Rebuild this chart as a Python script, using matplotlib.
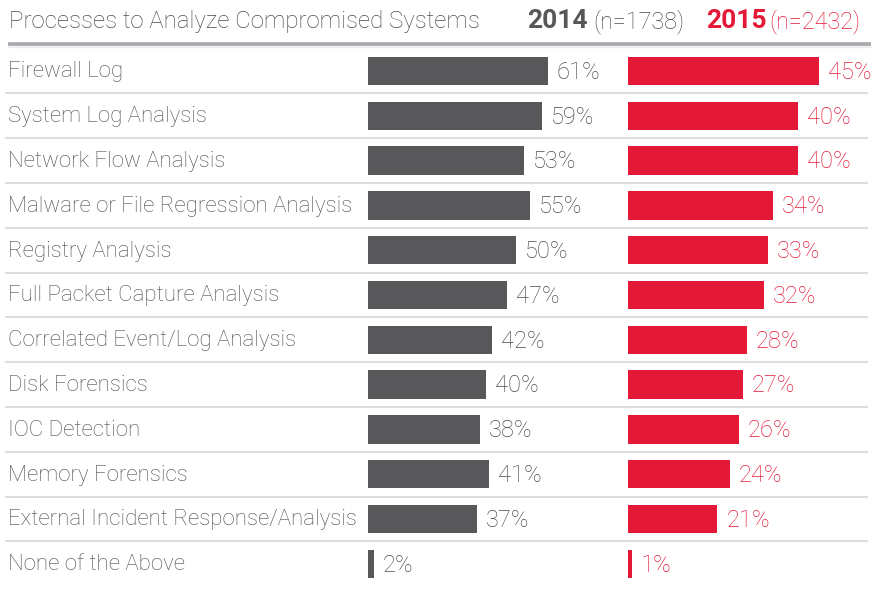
import matplotlib
matplotlib.use("Agg")
import matplotlib.pyplot as plt

categories = [
    "Firewall Log",
    "System Log Analysis",
    "Network Flow Analysis",
    "Malware or File Regression Analysis",
    "Registry Analysis",
    "Full Packet Capture Analysis",
    "Correlated Event/Log Analysis",
    "Disk Forensics",
    "IOC Detection",
    "Memory Forensics",
    "External Incident Response/Analysis",
    "None of the Above",
]
values_2014 = [61, 59, 53, 55, 50, 47, 42, 40, 38, 41, 37, 2]
values_2015 = [45, 40, 40, 34, 33, 32, 28, 27, 26, 24, 21, 1]

title = "Processes to Analyze Compromised Systems"
year_a, n_a = "2014", "(n=1738)"
year_b, n_b = "2015", "(n=2432)"

GRAY = "#58585a"
RED = "#e31937"
TEXT = "#4c4c4e"
SEP = "#dcdde0"

W, H = 884, 591
fig = plt.figure(figsize=(W / 100, H / 100), dpi=100)
fig.patch.set_facecolor("white")

FAMILY = ["Roboto", "DejaVu Sans"]
WEIGHT = "light"
LABEL_SIZE = 16
PCT_SIZE = 17

n = len(categories)
row_top_px = 71 - 44.8 / 2
row_bot_px = 71 + (n - 0.5) * 44.8
bottom = 1 - row_bot_px / H
height = (row_bot_px - row_top_px) / H


def px(x):
    return x / W


# full-width layer for category names and row separators
bg = fig.add_axes([0, bottom, 1, height])
bg.set_xlim(0, W)
bg.set_ylim(n - 0.5, -0.5)
bg.axis("off")
for i, name in enumerate(categories):
    bg.text(8, i + 0.02, name, ha="left", va="center", fontsize=LABEL_SIZE,
            color=TEXT, family=FAMILY, fontweight=WEIGHT)
for i in range(n - 1):
    bg.plot([5, 868], [i + 0.5, i + 0.5], color=SEP, lw=1.5,
            solid_capstyle="butt")

# bar panels: 2014 and 2015
scale_a = 2.95    # pixels per percent
scale_b = 4.25
panel_a_w = 250
panel_b_w = 250
ax_a = fig.add_axes([px(368), bottom, px(panel_a_w), height], sharey=bg)
ax_b = fig.add_axes([px(628), bottom, px(panel_b_w), height], sharey=bg)
ax_a.set_xlim(0, panel_a_w / scale_a)
ax_b.set_xlim(0, panel_b_w / scale_b)

ypos = list(range(n))
for ax, vals, col in ((ax_a, values_2014, GRAY), (ax_b, values_2015, RED)):
    ax.barh(ypos, vals, height=0.63, color=col, edgecolor="none")
    for y, v in zip(ypos, vals):
        ax.annotate(f"{v}%", (v, y + 0.03), xytext=(6.5, 0),
                    textcoords="offset points", ha="left", va="center",
                    fontsize=PCT_SIZE, color=col if col == RED else TEXT,
                    family=FAMILY, fontweight=WEIGHT)
    ax.axis("off")
    ax.patch.set_alpha(0)
ax_a.set_ylim(n - 0.5, -0.5)

# header
base_y = 1 - 28 / H
fig.text(px(9), base_y, title, ha="left", va="baseline", fontsize=17.3,
         color=TEXT, family=FAMILY, fontweight=WEIGHT)
fig.text(px(527), base_y, year_a, ha="left", va="baseline", fontsize=19,
         color=GRAY, family=FAMILY, fontweight="bold")
fig.text(px(593), base_y, n_a, ha="left", va="baseline", fontsize=16.8,
         color=TEXT, family=FAMILY, fontweight=WEIGHT)
fig.text(px(706), base_y, year_b, ha="left", va="baseline", fontsize=19,
         color=RED, family=FAMILY, fontweight="bold")
fig.text(px(769), base_y, n_b, ha="left", va="baseline", fontsize=16.8,
         color=RED, family=FAMILY, fontweight=WEIGHT)

# rule under the header, with a soft shadow
hy = 1 - 43.5 / H
fig.add_artist(plt.Line2D([px(8), px(871)], [hy - 2.2 / H, hy - 2.2 / H],
                          transform=fig.transFigure, color="#eeeeef", lw=2.5,
                          solid_capstyle="butt"))
fig.add_artist(plt.Line2D([px(8), px(871)], [hy, hy], transform=fig.transFigure,
                          color="#a7a9ac", lw=2.6, solid_capstyle="butt"))

fig.savefig("out.png", dpi=100, facecolor="white")
